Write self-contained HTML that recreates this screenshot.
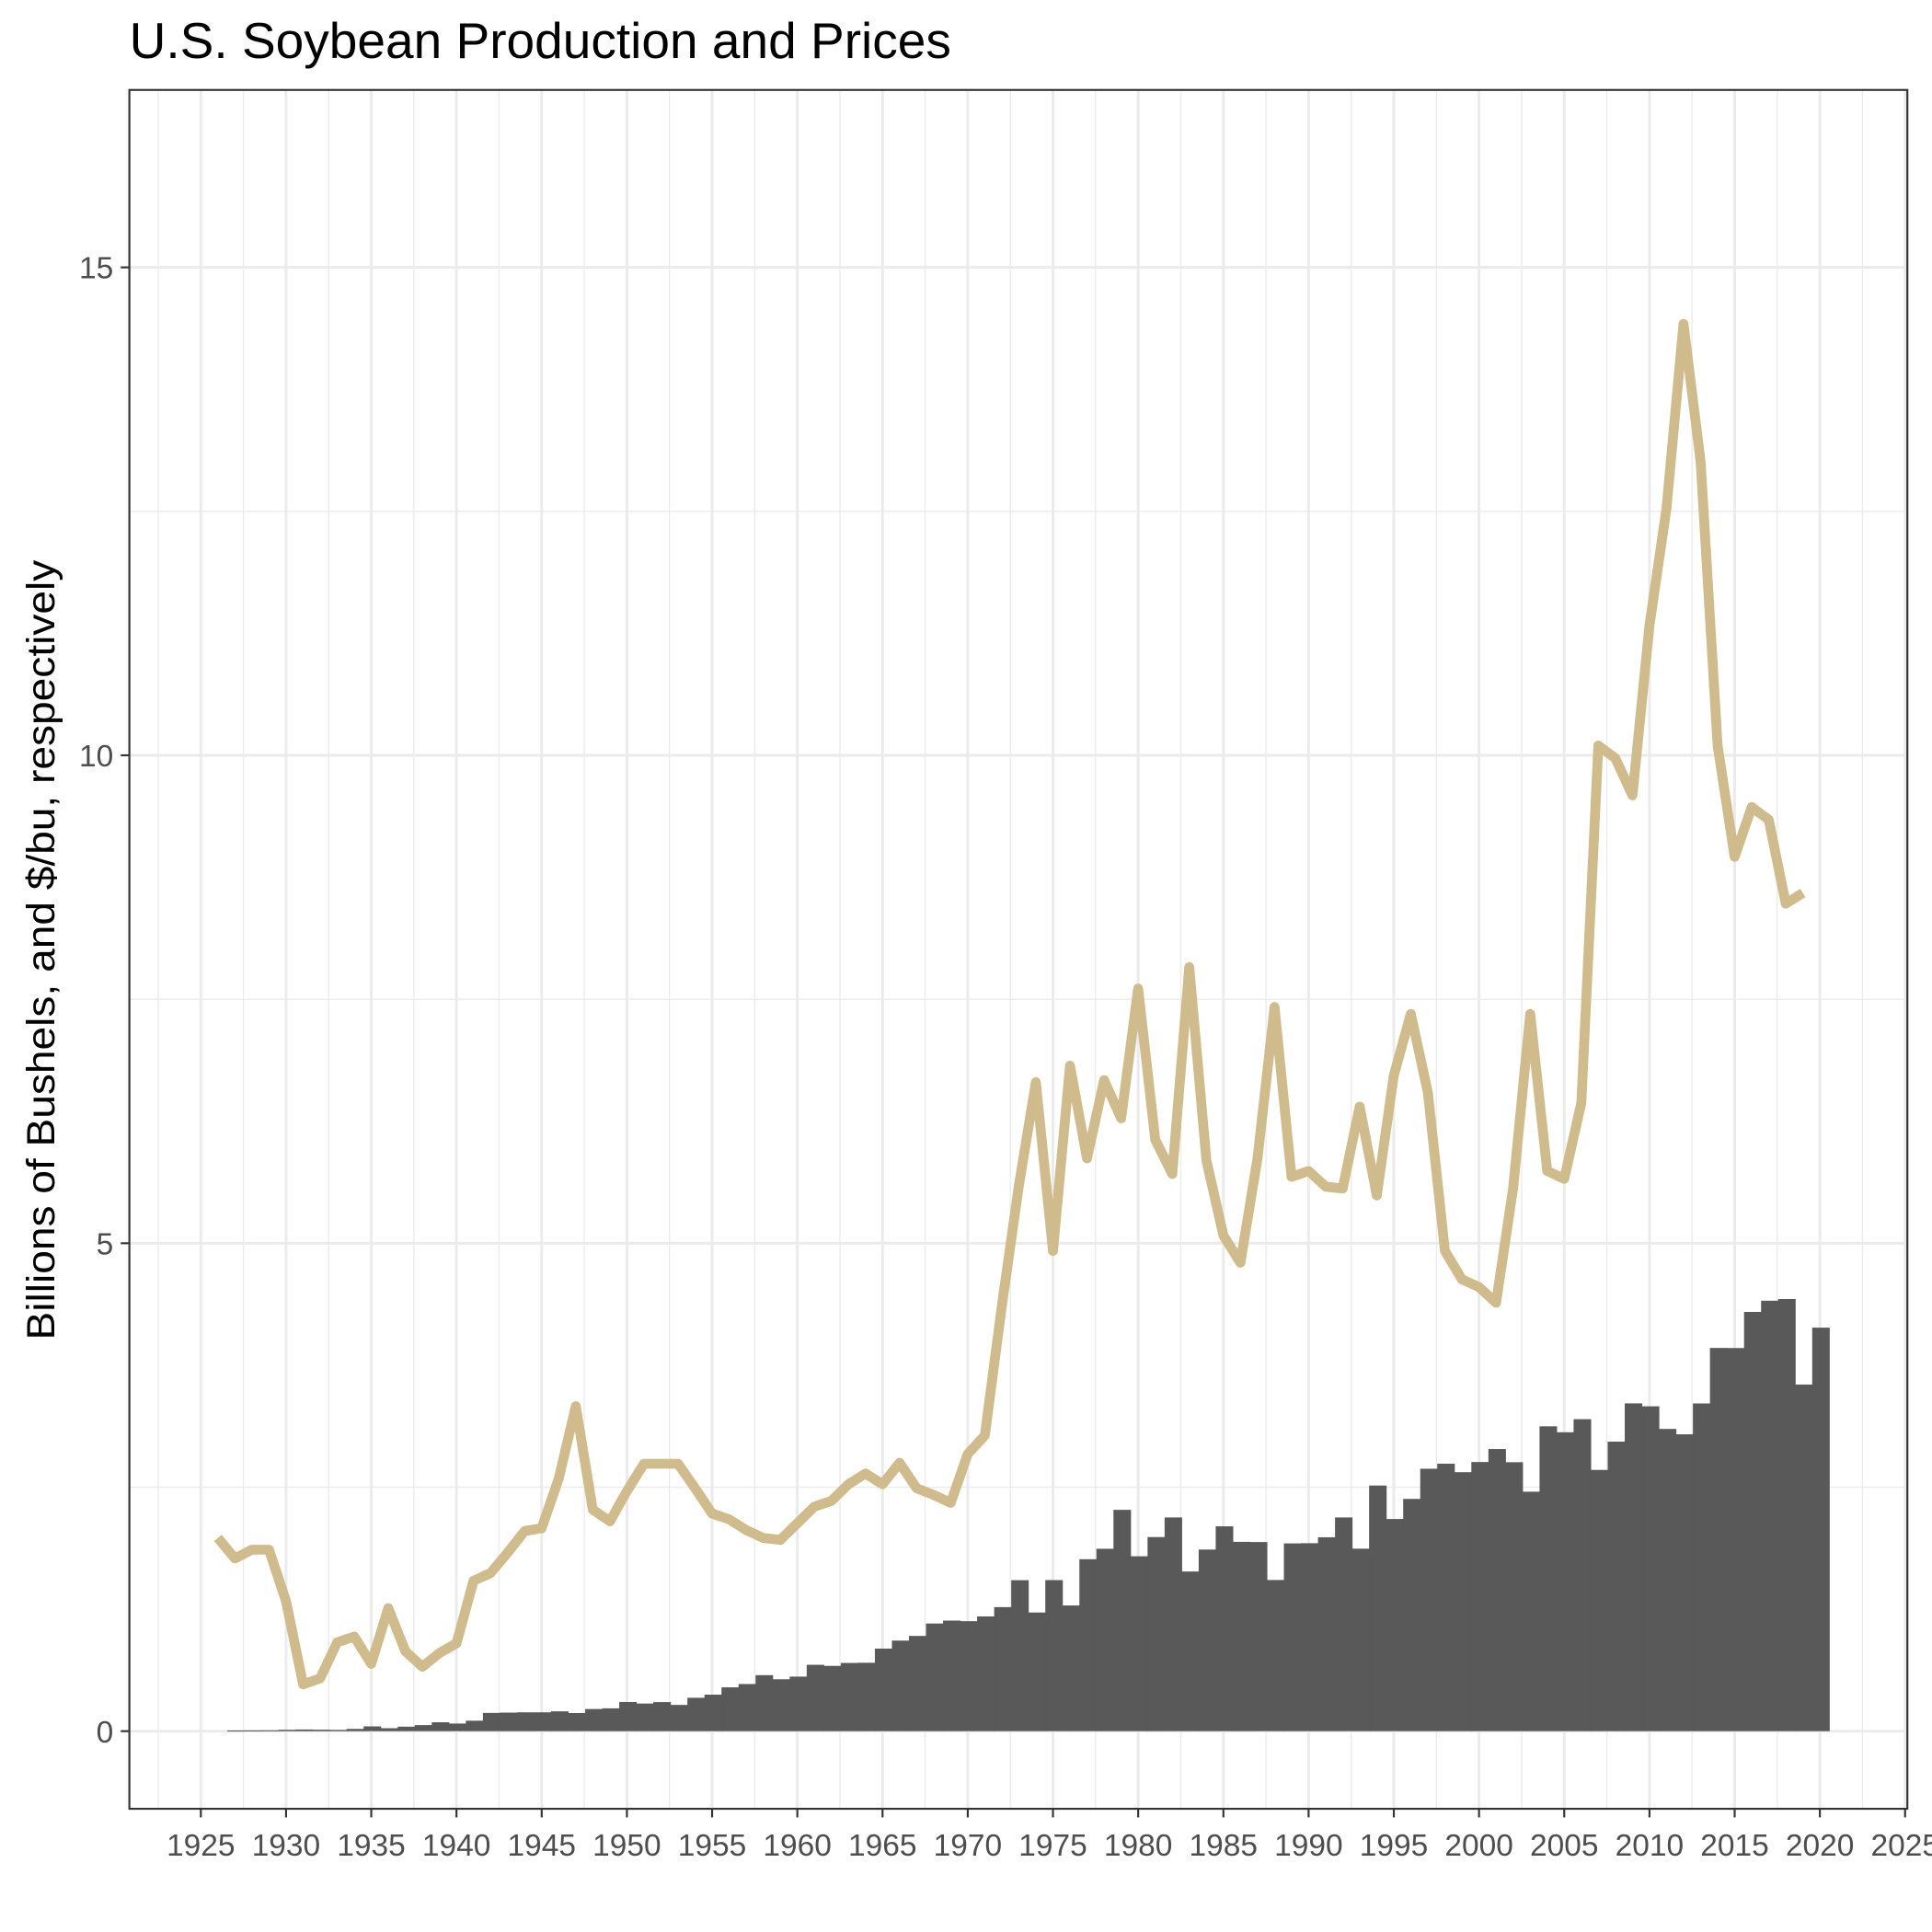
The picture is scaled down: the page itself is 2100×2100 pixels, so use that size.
<!DOCTYPE html>
<html><head><meta charset="utf-8"><style>
html,body{margin:0;padding:0;background:#fff;}
svg{display:block;font-family:"Liberation Sans",Arial,sans-serif;}
</style></head><body>
<svg id="chart" width="2100" height="2100" viewBox="0 0 1568 1568" xmlns="http://www.w3.org/2000/svg">
<rect x="0" y="0" width="1568" height="1568" fill="#fff"/>
<text x="105" y="47" font-size="41" textLength="667" lengthAdjust="spacingAndGlyphs" fill="#000">U.S. Soybean Production and Prices</text>
<text transform="translate(44,771) rotate(-90)" text-anchor="middle" font-size="32" textLength="633" lengthAdjust="spacingAndGlyphs" fill="#000">Billions of Bushels, and $/bu, respectively</text>
<g id="grid"></g>
<g id="bars"></g>
<g id="line"></g>
<rect x="105" y="73" width="1443" height="1395" fill="none" stroke="#333" stroke-width="1.6"/>
<g id="axes"></g>
</svg>
<script>
const prodYears = [];
for (let y = 1926; y <= 2020; y++) prodYears.push(y);
const production = [0.0,0.007,0.008,0.009,0.014,0.017,0.015,0.013,0.023,0.049,0.030,0.046,0.062,0.091,0.078,0.107,0.187,0.190,0.193,0.193,0.203,0.186,0.227,0.234,0.299,0.283,0.298,0.269,0.342,0.374,0.449,0.483,0.574,0.532,0.559,0.680,0.669,0.699,0.701,0.846,0.928,0.976,1.103,1.133,1.127,1.176,1.271,1.547,1.216,1.548,1.288,1.762,1.869,2.268,1.792,1.989,2.190,1.636,1.861,2.099,1.940,1.938,1.549,1.924,1.926,1.987,2.190,1.870,2.517,2.174,2.380,2.689,2.741,2.654,2.758,2.891,2.756,2.454,3.124,3.063,3.197,2.677,2.967,3.359,3.329,3.097,3.042,3.358,3.927,3.926,4.296,4.411,4.428,3.552,4.135];
const priceYears = [];
for (let y = 1926; y <= 2019; y++) priceYears.push(y);
const prices = [1.98,1.77,1.86,1.86,1.33,0.48,0.54,0.91,0.97,0.69,1.26,0.82,0.66,0.80,0.90,1.54,1.62,1.83,2.05,2.08,2.59,3.33,2.27,2.15,2.46,2.74,2.74,2.74,2.49,2.23,2.17,2.06,1.98,1.96,2.13,2.30,2.36,2.53,2.64,2.53,2.75,2.49,2.42,2.34,2.84,3.03,4.36,5.59,6.65,4.92,6.82,5.87,6.67,6.28,7.61,6.06,5.71,7.83,5.85,5.08,4.80,5.87,7.42,5.68,5.74,5.58,5.56,6.40,5.49,6.72,7.35,6.54,4.92,4.63,4.55,4.39,5.56,7.35,5.74,5.66,6.44,10.10,9.97,9.59,11.33,12.53,14.42,13.01,10.10,8.96,9.47,9.34,8.48,8.59];
const yTicks = [0,5,10,15];
const xTicks = [1925,1930,1935,1940,1945,1950,1955,1960,1965,1970,1975,1980,1985,1990,1995,2000,2005,2010,2015,2020,2025];

const NS = "http://www.w3.org/2000/svg";
const L = 105, R = 1548, T = 73, B = 1468;
const xScale = v => 163 + (v - 1925) * (1477 - 163) / 95;
const yScale = v => 1405 - v * (1405 - 217) / 15;
function mk(tag, attrs, parent) {
  const e = document.createElementNS(NS, tag);
  for (const k in attrs) e.setAttribute(k, attrs[k]);
  parent.appendChild(e);
  return e;
}
const grid = document.getElementById('grid');
const axes = document.getElementById('axes');
for (let v = -2.5; v <= 17.5; v += 5) {
  const y = yScale(v); if (y < T || y > B) continue;
  const g = mk('line', {x1: L, x2: R, y1: y, y2: y, stroke: '#ebebeb', 'stroke-width': 1}, grid);
  
  
}
for (let v = 1922.5; v <= 2027.5; v += 5) {
  const x = xScale(v); if (x < L || x > R) continue;
  const g = mk('line', {x1: x, x2: x, y1: T, y2: B, stroke: '#ebebeb', 'stroke-width': 1}, grid);
  
  
}
yTicks.forEach(v => {
  const y = yScale(v);
  const g = mk('line', {x1: L, x2: R, y1: y, y2: y, stroke: '#ebebeb', 'stroke-width': 2.2}, grid);
  
  
  const t = mk('line', {x1: L - 7, x2: L, y1: y, y2: y, stroke: '#333', 'stroke-width': 1.6}, axes);
  
  
  const lb = mk('text', {x: L - 13, y: y + 9, 'text-anchor': 'end', 'font-size': 25, fill: '#4d4d4d'}, axes);
  lb.textContent = v;
  
  
});
xTicks.forEach(v => {
  const x = xScale(v);
  const g = mk('line', {x1: x, x2: x, y1: T, y2: B, stroke: '#ebebeb', 'stroke-width': 2.2}, grid);
  
  
  const t = mk('line', {x1: x, x2: x, y1: B, y2: B + 7, stroke: '#333', 'stroke-width': 1.6}, axes);
  
  
  const lb = mk('text', {x: x, y: B + 38, 'text-anchor': 'middle', 'font-size': 25, fill: '#4d4d4d'}, axes);
  lb.textContent = v;
  
  
});
const bars = document.getElementById('bars');
prodYears.forEach((yr, i) => {
  if (production[i] <= 0) return;
  const x0 = xScale(yr - 0.45), x1 = xScale(yr + 0.55);
  const y0 = yScale(production[i]), y1 = yScale(0);
  const r = mk('rect', {x: x0, y: y0, width: x1 - x0 + 0.4, height: Math.max(0.8, y1 - y0), fill: '#595959'}, bars);
  
  
});
const line = document.getElementById('line');
const pts = priceYears.map((yr, i) => xScale(yr).toFixed(1) + ',' + yScale(prices[i]).toFixed(1)).join(' ');
const pl = mk('polyline', {points: pts, fill: 'none', stroke: '#CFBB8C', 'stroke-width': 8, 'stroke-linejoin': 'round'}, line);


</script>
</body></html>
